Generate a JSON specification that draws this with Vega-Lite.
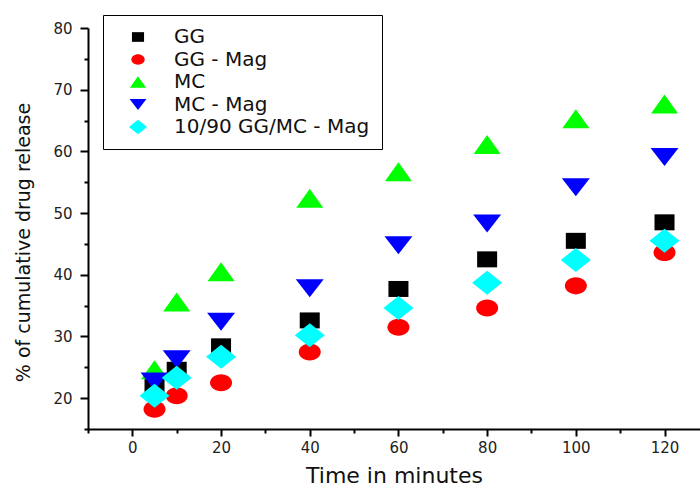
{
  "$schema": "https://vega.github.io/schema/vega-lite/v6.json",
  "width": 612,
  "height": 401,
  "autosize": {"type": "none"},
  "padding": {"left": 88, "top": 28, "right": 0, "bottom": 58},
  "background": "white",
  "config": {
    "view": {"stroke": null},
    "font": "DejaVu Sans"
  },
  "data": {
    "values": [
      {"time": 5, "release": 21.9, "series": "GG"},
      {"time": 10, "release": 24.6, "series": "GG"},
      {"time": 20, "release": 28.4, "series": "GG"},
      {"time": 40, "release": 32.6, "series": "GG"},
      {"time": 60, "release": 37.7, "series": "GG"},
      {"time": 80, "release": 42.5, "series": "GG"},
      {"time": 100, "release": 45.5, "series": "GG"},
      {"time": 120, "release": 48.5, "series": "GG"},
      {"time": 5, "release": 18.2, "series": "GG - Mag"},
      {"time": 10, "release": 20.4, "series": "GG - Mag"},
      {"time": 20, "release": 22.5, "series": "GG - Mag"},
      {"time": 40, "release": 27.5, "series": "GG - Mag"},
      {"time": 60, "release": 31.5, "series": "GG - Mag"},
      {"time": 80, "release": 34.6, "series": "GG - Mag"},
      {"time": 100, "release": 38.2, "series": "GG - Mag"},
      {"time": 120, "release": 43.6, "series": "GG - Mag"},
      {"time": 5, "release": 24.6, "series": "MC"},
      {"time": 10, "release": 35.6, "series": "MC"},
      {"time": 20, "release": 40.5, "series": "MC"},
      {"time": 40, "release": 52.4, "series": "MC"},
      {"time": 60, "release": 56.7, "series": "MC"},
      {"time": 80, "release": 61.1, "series": "MC"},
      {"time": 100, "release": 65.3, "series": "MC"},
      {"time": 120, "release": 67.7, "series": "MC"},
      {"time": 5, "release": 22.7, "series": "MC - Mag"},
      {"time": 10, "release": 26.3, "series": "MC - Mag"},
      {"time": 20, "release": 32.4, "series": "MC - Mag"},
      {"time": 40, "release": 37.8, "series": "MC - Mag"},
      {"time": 60, "release": 44.8, "series": "MC - Mag"},
      {"time": 80, "release": 48.3, "series": "MC - Mag"},
      {"time": 100, "release": 54.2, "series": "MC - Mag"},
      {"time": 120, "release": 59.1, "series": "MC - Mag"},
      {"time": 5, "release": 20.4, "series": "10/90 GG/MC - Mag"},
      {"time": 10, "release": 23.3, "series": "10/90 GG/MC - Mag"},
      {"time": 20, "release": 26.7, "series": "10/90 GG/MC - Mag"},
      {"time": 40, "release": 30.2, "series": "10/90 GG/MC - Mag"},
      {"time": 60, "release": 34.6, "series": "10/90 GG/MC - Mag"},
      {"time": 80, "release": 38.7, "series": "10/90 GG/MC - Mag"},
      {"time": 100, "release": 42.4, "series": "10/90 GG/MC - Mag"},
      {"time": 120, "release": 45.5, "series": "10/90 GG/MC - Mag"}
    ]
  },
  "mark": {"type": "point", "filled": true, "opacity": 1, "size": 900, "strokeWidth": 0},
  "encoding": {
    "x": {
      "field": "time",
      "type": "quantitative",
      "scale": {"domain": [-10, 128], "nice": false, "zero": false},
      "axis": {
        "title": "Time in minutes",
        "values": [-10, 0, 10, 20, 30, 40, 50, 60, 70, 80, 90, 100, 110, 120],
        "labelExpr": "datum.value % 20 === 0 ? datum.label : ''",
        "grid": false,
        "domainColor": "black",
        "domainWidth": 2,
        "tickColor": "black",
        "tickWidth": 2,
        "tickSize": {"condition": {"test": "datum.value % 20 === 0", "value": 7}, "value": 4},
        "labelFont": "DejaVu Sans",
        "labelFontSize": 15,
        "labelColor": "#222222",
        "labelPadding": 4,
        "labelFlush": false,
        "labelOverlap": false,
        "titleFont": "DejaVu Sans",
        "titleFontSize": 22,
        "titleFontWeight": "normal",
        "titleColor": "#111111",
        "titlePadding": 10
      }
    },
    "y": {
      "field": "release",
      "type": "quantitative",
      "scale": {"domain": [15, 80], "nice": false, "zero": false},
      "axis": {
        "title": "% of cumulative drug release",
        "values": [15, 20, 25, 30, 35, 40, 45, 50, 55, 60, 65, 70, 75, 80],
        "labelExpr": "datum.value % 10 === 0 ? datum.label : ''",
        "grid": false,
        "domainColor": "black",
        "domainWidth": 2,
        "tickColor": "black",
        "tickWidth": 2,
        "tickSize": {"condition": {"test": "datum.value % 10 === 0", "value": 8}, "value": 4},
        "labelFont": "DejaVu Sans",
        "labelFontSize": 15,
        "labelColor": "#222222",
        "labelPadding": 8,
        "labelFlush": false,
        "labelOverlap": false,
        "titleFont": "DejaVu Sans",
        "titleFontSize": 19,
        "titleFontWeight": "normal",
        "titleColor": "#111111",
        "titlePadding": 19,
        "titleY": 214
      }
    },
    "color": {
      "field": "series",
      "type": "nominal",
      "scale": {
        "domain": ["GG", "GG - Mag", "MC", "MC - Mag", "10/90 GG/MC - Mag"],
        "range": ["#000000", "#ff0000", "#00ff00", "#0000ff", "#00ffff"]
      },
      "legend": {
        "title": null,
        "orient": "none",
        "legendX": 15,
        "legendY": -13,
        "strokeColor": "black",
        "fillColor": "white",
        "padding": 12,
        "symbolOffset": 13,
        "symbolSize": 330,
        "symbolStrokeWidth": 0,
        "labelFont": "DejaVu Sans",
        "labelFontSize": 20,
        "labelColor": "#111111",
        "labelOffset": 26,
        "rowPadding": 2.5,
        "labelLimit": 400,
        "encode": {"legend": {"update": {"strokeWidth": {"value": 1.5}}}}
      }
    },
    "shape": {
      "field": "series",
      "type": "nominal",
      "scale": {
        "domain": ["GG", "GG - Mag", "MC", "MC - Mag", "10/90 GG/MC - Mag"],
        "range": [
          "M-0.667,-0.533L0.667,-0.533L0.667,0.533L-0.667,0.533Z",
          "M0.733,0C0.733,0.313 0.405,0.567 0,0.567C-0.405,0.567 -0.733,0.313 -0.733,0C-0.733,-0.313 -0.405,-0.567 0,-0.567C0.405,-0.567 0.733,-0.313 0.733,0Z",
          "M-0.9,0.633L0.9,0.633L0,-0.633Z",
          "M-0.933,-0.6L0.933,-0.6L0,0.6Z",
          "M-1,0L0,-0.8L1,0L0,0.8Z"
        ]
      }
    }
  }
}
